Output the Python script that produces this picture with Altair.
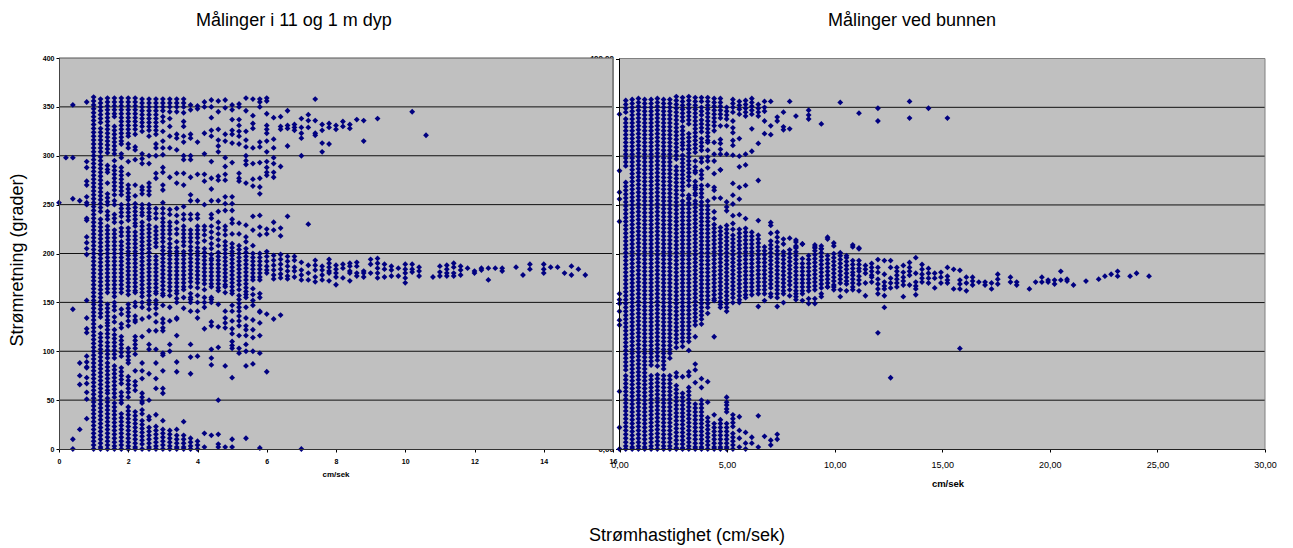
import altair as alt
import pandas as pd

# ---------- left panel: speed (cm/s), directions (degrees) ----------
a00 = (0.0, [252])
a02 = (0.2, [298])
a04 = (0.4, [352, 298, 256, 143, 10, 0])
a06 = (0.6, [254, 88, 75, 66, 20])
a08 = (0.8, [355, 294, 288, 274, 270, 258, 252, 250, 236, 234, 217, 211, 205, 199, 152, 134, 123, 119, 95, 89, 84, 83, 73, 67, 58, 51, 31])
a10 = (1.0, [360, 356, 352, 348, 344, 340, 336, 332, 328, 324, 320, 316, 312, 308, 304, 300, 296, 292, 288, 284, 280, 276, 272, 268, 264, 260, 256, 252, 248, 244, 240, 236, 232, 228, 224, 220, 216, 212, 208, 204, 200, 196, 192, 188, 184, 180, 176, 172, 168, 164, 160, 156, 152, 148, 144, 140, 136, 132, 128, 124, 120, 116, 112, 108, 104, 100, 96, 92, 88, 84, 80, 76, 72, 68, 64, 60, 56, 52, 48, 44, 40, 36, 32, 28, 24, 20, 16, 12, 8, 4, 0])
a12 = (1.2, [358, 354, 350, 346, 342, 338, 334, 328, 324, 320, 316, 312, 308, 304, 299, 295, 291, 287, 283, 279, 275, 271, 267, 263, 259, 255, 251, 247, 243, 235, 231, 227, 223, 219, 215, 211, 207, 203, 199, 195, 191, 187, 183, 179, 175, 171, 167, 163, 159, 155, 151, 147, 143, 139, 135, 125, 118, 114, 110, 106, 102, 98, 94, 90, 86, 82, 78, 74, 70, 66, 62, 58, 54, 50, 46, 42, 38, 34, 30, 26, 22, 18, 14, 10, 6, 2, 0])
a14 = (1.4, [359, 355, 351, 347, 343, 339, 335, 331, 327, 323, 319, 315, 311, 307, 303, 290, 286, 283, 272, 261, 257, 253, 250, 243, 239, 235, 228, 224, 220, 216, 212, 208, 204, 200, 196, 192, 188, 184, 180, 176, 172, 168, 164, 160, 148, 144, 140, 136, 132, 129, 126, 122, 118, 114, 109, 105, 101, 97, 93, 88, 84, 80, 76, 72, 68, 64, 60, 57, 52, 48, 44, 40, 36, 32, 28, 24, 20, 16, 12, 8, 4, 0])
a16 = (1.6, [359, 355, 351, 347, 343, 340, 330, 326, 322, 318, 314, 310, 306, 302, 295, 289, 285, 281, 277, 273, 269, 265, 260, 254, 250, 240, 236, 232, 224, 220, 216, 212, 208, 204, 200, 196, 192, 188, 184, 180, 176, 172, 168, 164, 160, 156, 150, 146, 142, 135, 130, 122, 117, 113, 109, 105, 101, 97, 93, 85, 81, 77, 73, 69, 65, 61, 57, 53, 47, 43, 39, 35, 31, 27, 23, 19, 15, 11, 7, 3, 0])
a18 = (1.8, [359, 355, 351, 347, 343, 339, 335, 331, 327, 323, 319, 315, 312, 302, 298, 288, 284, 280, 276, 272, 268, 264, 260, 250, 246, 242, 238, 232, 226, 222, 218, 212, 208, 204, 200, 196, 192, 188, 184, 180, 176, 172, 168, 164, 160, 143, 138, 128, 124, 115, 111, 107, 103, 99, 95, 83, 79, 75, 71, 67, 58, 54, 50, 47, 36, 32, 28, 24, 20, 16, 12, 8, 4, 0])
a20 = (2.0, [359, 355, 351, 347, 343, 339, 335, 331, 327, 323, 320, 312, 308, 294, 281, 270, 266, 262, 258, 255, 250, 246, 242, 238, 234, 226, 222, 218, 214, 210, 206, 202, 198, 194, 190, 186, 182, 178, 174, 170, 166, 162, 158, 148, 144, 140, 136, 131, 126, 103, 99, 95, 91, 88, 74, 70, 66, 62, 58, 53, 43, 39, 35, 31, 27, 23, 19, 15, 11, 7, 3, 0])
a22 = (2.2, [359, 355, 351, 347, 343, 339, 335, 331, 327, 322, 309, 306, 296, 270, 259, 251, 247, 243, 239, 235, 231, 228, 222, 218, 214, 210, 206, 202, 198, 194, 190, 186, 182, 178, 174, 170, 166, 162, 160, 150, 146, 136, 132, 130, 115, 111, 107, 103, 97, 80, 69, 65, 60, 38, 34, 30, 26, 22, 18, 14, 10, 6, 2, 0])
a24 = (2.4, [358, 354, 350, 346, 342, 338, 334, 330, 325, 302, 297, 292, 268, 265, 261, 250, 246, 242, 239, 232, 228, 224, 220, 216, 212, 208, 204, 200, 196, 192, 188, 184, 180, 176, 172, 168, 164, 160, 156, 150, 145, 133, 115, 88, 80, 72, 57, 53, 49, 47, 40, 36, 29, 25, 21, 17, 13, 9, 5, 0])
a26 = (2.6, [358, 354, 350, 346, 342, 338, 334, 330, 326, 320, 300, 292, 272, 268, 264, 260, 250, 246, 242, 238, 235, 229, 225, 221, 217, 213, 209, 205, 201, 197, 193, 189, 185, 181, 177, 173, 169, 165, 161, 157, 152, 148, 143, 135, 121, 107, 102, 77, 50, 33, 30, 22, 18, 14, 10, 6, 2, 0])
a28 = (2.8, [358, 354, 350, 346, 342, 338, 334, 330, 326, 322, 312, 308, 300, 282, 277, 246, 241, 236, 227, 223, 219, 215, 211, 207, 197, 193, 189, 185, 181, 177, 173, 169, 165, 161, 159, 152, 148, 144, 138, 130, 121, 102, 88, 72, 62, 35, 23, 19, 15, 11, 7, 3, 0])
a30 = (3.0, [358, 354, 350, 346, 340, 335, 325, 315, 308, 301, 288, 283, 270, 265, 252, 246, 241, 236, 232, 228, 224, 220, 216, 212, 207, 203, 199, 195, 191, 187, 183, 179, 175, 171, 167, 163, 159, 157, 147, 133, 129, 124, 121, 98, 96, 80, 62, 57, 29, 20, 16, 12, 8, 4, 0])
a32 = (3.2, [358, 354, 350, 345, 338, 330, 320, 308, 278, 245, 240, 232, 228, 224, 220, 215, 210, 206, 202, 198, 194, 190, 186, 182, 178, 174, 170, 166, 162, 157, 145, 131, 107, 100, 19, 15, 11, 7, 3, 0])
a34 = (3.4, [358, 354, 350, 345, 322, 318, 306, 282, 272, 246, 239, 232, 225, 220, 212, 206, 202, 198, 194, 190, 186, 182, 178, 174, 170, 166, 162, 159, 154, 150, 134, 133, 116, 89, 79, 20, 14, 10, 6, 2, 0])
a36 = (3.6, [358, 354, 350, 344, 335, 330, 320, 314, 300, 296, 282, 270, 248, 240, 235, 228, 224, 220, 216, 212, 208, 202, 198, 194, 190, 186, 182, 178, 174, 170, 166, 163, 155, 144, 28, 14, 10, 6, 2, 0])
a38 = (3.8, [352, 347, 322, 318, 300, 296, 278, 260, 254, 240, 235, 224, 220, 216, 212, 207, 203, 199, 195, 191, 187, 183, 179, 175, 171, 166, 159, 155, 153, 150, 141, 107, 94, 77, 11, 7, 3, 0])
a40 = (4.0, [351, 348, 314, 281, 254, 240, 236, 228, 224, 220, 216, 211, 206, 202, 198, 194, 190, 186, 182, 178, 174, 170, 165, 157, 150, 141, 134, 95, 8, 4, 0])
a42 = (4.2, [355, 350, 323, 302, 281, 274, 250, 228, 224, 219, 213, 205, 201, 197, 193, 189, 185, 181, 177, 173, 169, 163, 155, 150, 145, 123, 16, 2])
a44 = (4.4, [357, 350, 339, 326, 320, 294, 277, 266, 254, 240, 236, 228, 222, 216, 210, 205, 199, 195, 193, 189, 185, 181, 177, 173, 169, 166, 155, 153, 150, 130, 126, 102, 93, 86, 14])
a46 = (4.6, [356, 345, 327, 316, 310, 304, 279, 275, 254, 243, 232, 226, 220, 214, 208, 201, 197, 193, 189, 185, 181, 177, 173, 169, 165, 162, 148, 125, 104, 50, 15, 5, 2])
a48 = (4.8, [357, 349, 322, 315, 298, 289, 281, 275, 258, 251, 244, 228, 224, 219, 212, 208, 204, 200, 196, 192, 188, 184, 180, 176, 172, 168, 166, 160, 141, 134, 129, 124, 85, 2])
a50 = (5.0, [352, 347, 337, 326, 322, 313, 293, 258, 251, 244, 235, 231, 220, 210, 206, 202, 198, 194, 190, 186, 182, 178, 174, 170, 166, 162, 159, 147, 141, 131, 123, 118, 110, 106, 103, 73, 10, 2])
a52 = (5.2, [353, 350, 337, 331, 325, 320, 312, 282, 277, 274, 231, 220, 208, 204, 200, 196, 192, 188, 184, 180, 176, 172, 168, 163, 157, 153, 149, 145, 141, 136, 131, 126, 116, 103, 98])
a54 = (5.4, [359, 346, 325, 316, 309, 300, 295, 291, 272, 229, 217, 212, 205, 201, 197, 193, 189, 185, 181, 177, 173, 169, 165, 161, 158, 155, 145, 134, 126, 122, 116, 107, 100, 85, 11])
a56 = (5.6, [358, 341, 333, 328, 308, 292, 276, 269, 238, 224, 208, 200, 196, 192, 188, 184, 180, 176, 173, 164, 158, 152, 147, 132, 122, 114, 100, 87])
a58 = (5.8, [358, 355, 350, 314, 309, 293, 277, 268, 261, 239, 227, 219, 200, 196, 192, 188, 184, 180, 176, 173, 159, 155, 141, 140, 129, 116, 98, 1])
a60 = (6.0, [359, 356, 343, 331, 327, 323, 315, 304, 294, 288, 283, 280, 225, 220, 202, 197, 192, 187, 183, 180, 138, 79])
a62 = (6.2, [339, 317, 308, 298, 292, 283, 278, 232, 224, 198, 193, 188, 183, 178, 174, 133])
a64 = (6.4, [340, 330, 327, 289, 226, 218, 199, 194, 189, 184, 179, 175, 137])
a66 = (6.6, [346, 331, 328, 310, 238, 197, 192, 187, 182, 177, 174])
a68 = (6.8, [332, 329, 326, 197, 193, 186, 182, 176])
a70 = (7.0, [338, 329, 323, 318, 300, 191, 183, 178, 173, 0])
a72 = (7.2, [342, 336, 329, 230, 188, 180, 173])
a74 = (7.4, [358, 336, 323, 321, 193, 188, 183, 176, 171])
a76 = (7.6, [332, 326, 313, 304, 187, 183, 178, 173])
a78 = (7.8, [333, 329, 312, 194, 190, 186, 182, 180, 172])
a80 = (8.0, [331, 327, 188, 184, 180, 176, 168])
a82 = (8.2, [335, 330, 189, 185, 175])
a84 = (8.4, [332, 328, 190, 187, 182, 180, 172])
a86 = (8.6, [337, 191, 187, 180, 177])
a88 = (8.8, [336, 315, 182, 180, 176])
a90 = (9.0, [194, 189, 180])
a92 = (9.2, [338, 195, 190, 185, 180, 175])
a94 = (9.4, [189, 184, 176])
a96 = (9.6, [187, 183, 177])
a98 = (9.8, [185, 177])
a100 = (10.0, [189, 184, 180, 175, 170])
a102 = (10.2, [345, 189, 184, 181])
a104 = (10.4, [186, 182, 177])
a106 = (10.6, [321])
a108 = (10.8, [176])
a110 = (11.0, [187, 181, 177])
a112 = (11.2, [188, 184, 180, 177])
a114 = (11.4, [190, 186, 180, 177])
a116 = (11.6, [187, 183, 178])
a118 = (11.8, [185])
a120 = (12.0, [182, 180])
a122 = (12.2, [185, 183])
a124 = (12.4, [185, 173])
a126 = (12.6, [185])
a128 = (12.8, [185, 182])
a132 = (13.2, [186])
a134 = (13.4, [178])
a136 = (13.6, [189, 184])
a140 = (14.0, [189, 184, 180])
a142 = (14.2, [186])
a144 = (14.4, [186])
a146 = (14.6, [180])
a148 = (14.8, [187, 178])
a150 = (15.0, [184])
a152 = (15.2, [178])

# ---------- right panel: speed (cm/s), directions (degrees) ----------
b00 = (0.00, [343, 285, 263, 256, 233, 159, 153, 149, 141, 132, 127, 59, 22, 0])
b01 = (0.29, [357, 353, 349, 345, 338, 334, 330, 326, 322, 318, 314, 310, 306, 302, 298, 294, 290, 273, 269, 265, 261, 257, 253, 249, 245, 241, 237, 233, 229, 225, 221, 217, 213, 209, 205, 201, 197, 193, 189, 185, 181, 177, 173, 169, 165, 161, 157, 153, 149, 145, 141, 137, 133, 129, 125, 121, 117, 113, 109, 105, 101, 97, 93, 89, 85, 81, 75, 71, 67, 63, 59, 55, 51, 47, 43, 39, 35, 31, 27, 23, 19, 15, 11, 7, 3, 0])
b02 = (0.59, [358, 354, 350, 346, 342, 338, 334, 330, 326, 322, 318, 314, 310, 306, 302, 298, 294, 290, 286, 282, 278, 274, 270, 266, 262, 258, 254, 250, 246, 242, 238, 234, 230, 226, 222, 218, 214, 210, 206, 202, 198, 194, 190, 186, 182, 178, 174, 170, 166, 162, 158, 154, 150, 146, 142, 138, 134, 130, 126, 122, 118, 114, 110, 106, 102, 98, 94, 90, 86, 82, 78, 74, 70, 66, 62, 58, 54, 50, 46, 42, 38, 34, 30, 26, 22, 18, 14, 10, 6, 2, 0])
b03 = (0.88, [359, 355, 351, 347, 343, 339, 335, 331, 327, 323, 319, 315, 311, 307, 303, 299, 295, 291, 287, 283, 279, 275, 271, 267, 263, 259, 255, 251, 247, 243, 239, 235, 231, 227, 223, 219, 215, 211, 207, 203, 199, 195, 191, 187, 183, 179, 175, 171, 167, 163, 159, 155, 151, 147, 143, 139, 135, 131, 127, 123, 119, 115, 111, 107, 103, 99, 95, 91, 87, 83, 79, 75, 71, 67, 63, 59, 55, 51, 47, 43, 39, 35, 31, 27, 23, 19, 15, 11, 7, 3, 0])
b04 = (1.17, [358, 354, 350, 346, 342, 338, 334, 330, 326, 322, 318, 314, 310, 306, 302, 298, 294, 290, 286, 282, 278, 274, 270, 266, 262, 258, 254, 250, 246, 242, 238, 234, 230, 226, 222, 218, 214, 210, 206, 202, 198, 194, 190, 186, 182, 178, 174, 170, 166, 162, 158, 154, 150, 146, 142, 138, 134, 130, 126, 122, 118, 114, 110, 106, 102, 98, 94, 90, 86, 82, 78, 74, 70, 66, 62, 58, 54, 50, 46, 42, 38, 34, 30, 26, 22, 18, 14, 10, 6, 2, 0])
b05 = (1.47, [358, 354, 350, 346, 342, 338, 334, 330, 326, 322, 318, 314, 310, 306, 302, 298, 294, 290, 286, 282, 278, 274, 270, 266, 262, 258, 254, 250, 246, 242, 238, 234, 230, 226, 222, 218, 214, 210, 206, 202, 198, 194, 190, 186, 182, 178, 174, 170, 166, 162, 158, 154, 150, 146, 142, 138, 134, 130, 126, 122, 118, 114, 110, 106, 102, 98, 94, 90, 86, 75, 71, 67, 63, 59, 55, 51, 47, 43, 39, 35, 31, 27, 23, 19, 15, 11, 7, 3, 0])
b06 = (1.76, [359, 355, 351, 347, 343, 339, 335, 331, 327, 323, 319, 315, 311, 307, 303, 299, 295, 291, 287, 283, 279, 275, 271, 267, 263, 259, 255, 251, 247, 243, 239, 235, 231, 227, 223, 219, 215, 211, 207, 203, 199, 195, 191, 187, 183, 179, 175, 171, 167, 163, 159, 155, 151, 147, 143, 139, 135, 131, 127, 123, 119, 115, 111, 107, 103, 99, 95, 91, 85, 76, 72, 68, 64, 60, 56, 52, 48, 44, 40, 36, 32, 28, 24, 20, 16, 12, 8, 4, 0])
b07 = (2.05, [358, 354, 350, 346, 342, 338, 334, 330, 326, 322, 318, 314, 310, 306, 302, 298, 294, 290, 286, 282, 278, 274, 270, 266, 262, 258, 254, 250, 246, 242, 238, 234, 230, 226, 222, 218, 214, 210, 206, 202, 198, 194, 190, 186, 182, 178, 174, 170, 166, 162, 158, 154, 150, 146, 142, 138, 134, 130, 126, 122, 118, 114, 110, 106, 102, 98, 94, 90, 86, 82, 75, 71, 67, 63, 59, 55, 51, 47, 43, 39, 35, 31, 27, 23, 19, 15, 11, 7, 3, 0])
b08 = (2.34, [358, 354, 350, 346, 342, 338, 334, 330, 326, 322, 318, 314, 310, 306, 302, 298, 294, 290, 286, 282, 278, 274, 270, 266, 262, 258, 254, 250, 246, 242, 238, 234, 230, 226, 222, 218, 214, 210, 206, 202, 198, 194, 190, 186, 182, 178, 174, 170, 166, 162, 158, 154, 150, 146, 142, 138, 134, 130, 126, 122, 118, 114, 110, 106, 102, 98, 93, 75, 71, 67, 63, 59, 55, 51, 47, 43, 39, 35, 31, 27, 23, 19, 15, 11, 7, 3, 0])
b09 = (2.64, [361, 357, 353, 349, 345, 341, 337, 333, 329, 325, 321, 317, 313, 309, 305, 301, 297, 289, 285, 281, 277, 273, 269, 265, 261, 257, 253, 249, 245, 241, 237, 233, 229, 225, 221, 217, 213, 209, 205, 201, 197, 193, 189, 185, 181, 177, 173, 169, 165, 161, 157, 153, 149, 145, 141, 137, 133, 129, 125, 121, 117, 113, 109, 104, 78, 74, 65, 61, 57, 53, 49, 45, 41, 37, 33, 29, 25, 21, 17, 13, 9, 5, 1, 0])
b10 = (2.93, [360, 356, 352, 348, 344, 340, 336, 330, 326, 322, 318, 314, 311, 307, 301, 297, 293, 289, 285, 281, 277, 273, 269, 265, 260, 254, 250, 246, 242, 238, 234, 230, 226, 222, 218, 214, 210, 206, 202, 198, 194, 190, 186, 182, 178, 174, 170, 166, 162, 158, 154, 150, 146, 142, 138, 134, 130, 126, 122, 118, 114, 110, 105, 74, 57, 53, 49, 45, 41, 37, 33, 29, 25, 21, 17, 13, 9, 5, 1, 0])
b11 = (3.22, [361, 357, 353, 349, 345, 341, 337, 333, 323, 319, 315, 311, 307, 303, 307, 299, 295, 291, 287, 283, 279, 275, 270, 260, 256, 252, 257, 250, 246, 242, 238, 234, 230, 226, 222, 218, 214, 210, 206, 202, 198, 194, 190, 186, 182, 178, 174, 170, 166, 162, 158, 154, 150, 146, 142, 138, 134, 130, 126, 122, 118, 114, 110, 101, 79, 75, 63, 59, 55, 51, 47, 43, 39, 35, 31, 27, 23, 19, 15, 11, 7, 3, 0])
b12 = (3.52, [360, 356, 352, 348, 344, 340, 336, 332, 328, 324, 320, 316, 312, 308, 304, 295, 289, 285, 283, 274, 270, 266, 262, 268, 260, 254, 251, 247, 243, 239, 235, 231, 227, 223, 219, 215, 211, 207, 203, 199, 195, 191, 187, 183, 179, 175, 171, 167, 163, 159, 155, 151, 147, 143, 139, 135, 131, 127, 115, 87, 81, 68, 46, 42, 38, 34, 30, 26, 22, 18, 14, 10, 6, 2, 0])
b13 = (3.81, [360, 356, 350, 346, 342, 337, 333, 329, 325, 318, 314, 310, 306, 298, 294, 285, 281, 277, 270, 266, 262, 258, 253, 249, 245, 241, 237, 233, 229, 225, 221, 217, 213, 209, 205, 201, 197, 193, 189, 185, 181, 177, 173, 169, 165, 161, 157, 153, 149, 145, 141, 137, 133, 128, 72, 63, 50, 46, 42, 38, 34, 30, 26, 22, 18, 14, 10, 6, 2, 0])
b14 = (4.10, [360, 356, 352, 348, 344, 340, 336, 332, 328, 324, 320, 316, 314, 306, 295, 299, 288, 270, 254, 249, 245, 241, 237, 233, 229, 225, 221, 217, 213, 209, 205, 201, 197, 193, 189, 185, 181, 177, 173, 169, 165, 161, 157, 153, 149, 145, 139, 69, 48, 32, 28, 24, 20, 16, 12, 8, 4, 0])
b15 = (4.40, [359, 355, 351, 347, 343, 339, 335, 331, 326, 314, 302, 295, 282, 268, 265, 257, 243, 236, 230, 226, 222, 218, 214, 210, 206, 202, 198, 194, 190, 186, 182, 178, 174, 170, 166, 162, 158, 154, 152, 115, 35, 26, 22, 18, 14, 10, 6, 2, 0])
b16 = (4.69, [359, 355, 351, 347, 343, 339, 331, 317, 313, 307, 302, 286, 286, 257, 227, 223, 219, 215, 211, 207, 203, 199, 195, 191, 187, 183, 179, 175, 171, 167, 163, 159, 155, 151, 148, 145, 30, 26, 22, 18, 14, 10, 6, 2, 0])
b17 = (4.98, [350, 346, 342, 338, 331, 302, 253, 248, 244, 229, 225, 221, 217, 213, 209, 205, 201, 197, 193, 189, 185, 181, 177, 173, 169, 165, 161, 157, 153, 149, 145, 141, 53, 48, 45, 41, 38, 26, 22, 18, 14, 10, 6, 2, 0])
b18 = (5.27, [358, 354, 350, 345, 336, 329, 324, 316, 311, 301, 272, 260, 251, 239, 231, 225, 219, 215, 211, 207, 203, 199, 195, 191, 187, 183, 179, 175, 171, 167, 163, 159, 155, 150, 35, 31, 27, 23, 16, 12, 8, 4, 0])
b19 = (5.57, [356, 352, 348, 343, 318, 300, 289, 268, 256, 240, 225, 221, 217, 213, 209, 205, 201, 197, 193, 189, 185, 181, 177, 173, 169, 165, 161, 157, 153, 150, 33, 19, 11, 2])
b20 = (5.86, [357, 353, 349, 345, 341, 302, 291, 270, 236, 226, 222, 218, 214, 210, 206, 202, 198, 194, 190, 186, 182, 178, 174, 170, 166, 162, 158, 155, 17, 6, 0])
b21 = (6.15, [359, 355, 351, 347, 343, 328, 305, 222, 218, 214, 210, 206, 202, 198, 194, 190, 186, 182, 178, 174, 170, 166, 162, 158, 12, 6])
b22 = (6.45, [353, 349, 345, 341, 313, 275, 234, 219, 215, 211, 207, 203, 199, 195, 191, 187, 183, 179, 175, 171, 167, 163, 159, 146, 34, 2])
b23 = (6.74, [356, 350, 346, 336, 323, 207, 203, 199, 195, 191, 187, 183, 179, 175, 171, 167, 163, 159, 152, 13])
b24 = (7.03, [356, 331, 322, 232, 229, 221, 213, 209, 205, 201, 197, 193, 189, 185, 181, 177, 173, 169, 165, 159, 156, 9, 4])
b25 = (7.33, [340, 336, 222, 217, 212, 207, 203, 199, 195, 191, 187, 183, 179, 175, 171, 167, 163, 159, 155, 146, 15, 10])
b26 = (7.62, [345, 330, 327, 215, 210, 202, 198, 194, 190, 186, 182, 178, 174, 170, 166, 162, 159, 150])
b27 = (7.91, [356, 328, 216, 204, 200, 196, 192, 188, 184, 180, 176, 172, 168, 163, 157])
b28 = (8.20, [341, 212, 208, 214, 207, 206, 202, 198, 194, 190, 186, 182, 178, 174, 170, 166, 162, 159, 156, 153])
b29 = (8.50, [210, 210, 195, 190, 186, 182, 178, 174, 170, 166, 162, 159, 152])
b30 = (8.79, [347, 342, 338, 198, 194, 190, 186, 182, 178, 174, 170, 166, 162, 154, 149])
b31 = (9.08, [209, 206, 207, 203, 199, 195, 191, 187, 183, 179, 175, 171, 167, 163, 154, 149])
b32 = (9.38, [333, 208, 205, 205, 201, 197, 193, 189, 185, 181, 177, 173, 169, 165, 159, 156])
b33 = (9.67, [217, 215, 198, 194, 190, 186, 182, 178, 174, 170, 166, 166])
b34 = (9.96, [211, 208, 200, 196, 192, 188, 184, 180, 176, 172, 168, 166, 163])
b35 = (10.26, [355, 201, 198, 194, 190, 186, 182, 178, 174, 170, 163, 156])
b36 = (10.55, [198, 196, 192, 188, 184, 180, 176, 172, 169, 162])
b37 = (10.84, [209, 207, 193, 189, 185, 181, 178, 174, 170, 166, 163])
b38 = (11.13, [344, 206, 205, 193, 189, 185, 182, 177, 173, 169, 162])
b39 = (11.43, [188, 184, 180, 170, 157])
b40 = (11.72, [190, 186, 182, 178, 176, 171])
b41 = (12.01, [349, 336, 194, 186, 181, 174, 169, 164, 159, 119])
b42 = (12.31, [193, 179, 171, 167, 164, 157, 145])
b43 = (12.60, [193, 186, 175, 170, 165, 73])
b44 = (12.89, [186, 182, 178, 174, 170, 166])
b45 = (13.19, [188, 181, 176, 172, 168, 156])
b46 = (13.48, [356, 339, 191, 186, 182, 178, 168])
b47 = (13.77, [196, 180, 171, 167, 164, 158])
b48 = (14.06, [189, 184, 179, 175, 171])
b49 = (14.36, [349, 185, 180, 175, 170])
b50 = (14.65, [180, 175, 165])
b51 = (14.94, [181, 176, 170])
b52 = (15.24, [339, 186, 177, 173, 170])
b53 = (15.53, [184, 164])
b54 = (15.82, [183, 173, 169, 164, 103])
b55 = (16.12, [176, 170, 162])
b56 = (16.41, [176, 172, 168])
b57 = (16.70, [171])
b58 = (16.99, [171, 168])
b59 = (17.29, [170, 164])
b60 = (17.58, [179, 174, 169])
b62 = (18.17, [176, 171])
b63 = (18.46, [171, 168])
b65 = (19.05, [164])
b66 = (19.34, [171])
b67 = (19.63, [176, 171])
b68 = (19.92, [173, 171])
b69 = (20.22, [173, 169])
b70 = (20.51, [182, 173])
b71 = (20.80, [174, 172])
b72 = (21.10, [168])
b74 = (21.68, [172])
b76 = (22.27, [174])
b77 = (22.56, [177])
b78 = (22.85, [179])
b79 = (23.15, [182, 177])
b81 = (23.73, [177])
b82 = (24.03, [180])
b84 = (24.61, [177])

left_columns = [a00, a02, a04, a06, a08, a10, a12, a14, a16, a18, a20, a22, a24, a26, a28, a30, a32, a34, a36, a38, a40, a42, a44, a46, a48, a50, a52, a54, a56, a58, a60, a62, a64, a66, a68, a70, a72, a74, a76, a78, a80, a82, a84, a86, a88, a90, a92, a94, a96, a98, a100, a102, a104, a106, a108, a110, a112, a114, a116, a118, a120, a122, a124, a126, a128, a132, a134, a136, a140, a142, a144, a146, a148, a150, a152]
right_columns = [b00, b01, b02, b03, b04, b05, b06, b07, b08, b09, b10, b11, b12, b13, b14, b15, b16, b17, b18, b19, b20, b21, b22, b23, b24, b25, b26, b27, b28, b29, b30, b31, b32, b33, b34, b35, b36, b37, b38, b39, b40, b41, b42, b43, b44, b45, b46, b47, b48, b49, b50, b51, b52, b53, b54, b55, b56, b57, b58, b59, b60, b62, b63, b65, b66, b67, b68, b69, b70, b71, b72, b74, b76, b77, b78, b79, b81, b82, b84]

grid_values = [50, 100, 150, 200, 250, 300, 350]
y_ticks = [0, 50, 100, 150, 200, 250, 300, 350, 400]
left_x_ticks = [0, 2, 4, 6, 8, 10, 12, 14, 16]
right_x_ticks = [0, 5, 10, 15, 20, 25, 30]

TITLE_LEFT = "Målinger i 11 og 1 m dyp"
TITLE_RIGHT = "Målinger ved bunnen"
Y_LABEL = "Strømretning (grader)"
X_LABEL = "Strømhastighet (cm/sek)"
UNIT = "cm/sek"


def table(cols):
    return pd.DataFrame([{"v": v, "d": d} for v, ds in cols for d in ds])


FONT = "Liberation Sans"
NAVY = "#000080"
W, H = 1206, 391
LW = 554          # left plot width
RX = 560.5        # right plot start
RY = 0.5

lx = alt.Scale(domain=[0, 16], range=[0, LW], nice=False, zero=False)
ly = alt.Scale(domain=[0, 400], range=[H, 0], nice=False)
rx = alt.Scale(domain=[0, 30], range=[RX, W], nice=False, zero=False)
ry = alt.Scale(domain=[0, 400], range=[H, RY], nice=False)

one = pd.DataFrame({"k": [1]})
grid = pd.DataFrame({"g": grid_values})


def rect(x0, x1, y0, y1, color):
    return alt.Chart(one).mark_rect(color=color).encode(
        x=alt.value(x0), x2=alt.value(x1), y=alt.value(y0), y2=alt.value(y1))


def hline(x0, x1, y, color, w=1):
    return alt.Chart(one).mark_rule(color=color, strokeWidth=w).encode(
        x=alt.value(x0), x2=alt.value(x1), y=alt.value(y))


def vline(x, y0, y1, color, w=1):
    return alt.Chart(one).mark_rule(color=color, strokeWidth=w).encode(
        x=alt.value(x), y=alt.value(y0), y2=alt.value(y1))


def label(text, x, y, size, weight="normal", angle=0):
    return alt.Chart(pd.DataFrame({"t": [text]})).mark_text(
        font=FONT, fontSize=size, fontWeight=weight, color="black",
        angle=angle, align="center", baseline="middle"
    ).encode(x=alt.value(x), y=alt.value(y), text="t:N")


comma = "replace(format(datum.value, '.2f'), '.', ',')"

# ----- right panel first: the left panel lies over its y-axis labels -----
r_axis_y = alt.Chart(grid).mark_rule(color="#111", strokeWidth=1).encode(
    x=alt.value(RX), x2=alt.value(W),
    y=alt.Y("g:Q", scale=ry, axis=alt.Axis(
        orient="left", offset=-RX, values=y_ticks, labelExpr=comma, grid=False,
        title=None, domain=False, tickColor="black", tickSize=4, labelPadding=2,
        labelFont=FONT, labelFontSize=8, labelFontWeight="bold", labelColor="black")))
r_points = alt.Chart(table(right_columns)).mark_point(
    shape="diamond", filled=True, size=34, color=NAVY, opacity=1, clip=False
).encode(
    x=alt.X("v:Q", scale=rx, axis=alt.Axis(
        orient="bottom", values=right_x_ticks, labelExpr=comma, grid=False, title=None,
        domainColor="#222", tickColor="black", tickSize=3, labelPadding=8, zindex=1,
        labelFlush=False, labelFont=FONT, labelFontSize=9, labelFontWeight="normal",
        labelColor="black")),
    y=alt.Y("d:Q", scale=ry, axis=None))

# ----- left panel -----
l_grid = alt.Chart(grid).mark_rule(color="#111", strokeWidth=1).encode(
    x=alt.value(0), x2=alt.value(LW), y=alt.Y("g:Q", scale=ly, axis=None))
l_points = alt.Chart(table(left_columns)).mark_point(
    shape="diamond", filled=True, size=34, color=NAVY, opacity=1, clip=False
).encode(
    x=alt.X("v:Q", scale=lx, axis=alt.Axis(
        orient="bottom", values=left_x_ticks, format="d", grid=False, title=None,
        domainColor="#333", tickColor="black", tickSize=3, labelPadding=5, zindex=1,
        labelFlush=False, labelFont=FONT, labelFontSize=7, labelFontWeight="bold",
        labelColor="black")),
    y=alt.Y("d:Q", scale=ly, axis=alt.Axis(
        orient="left", values=y_ticks, format="d", grid=False, title=None, zindex=1,
        domainColor="#444", tickColor="black", tickSize=3, labelPadding=2,
        labelFont=FONT, labelFontSize=7, labelFontWeight="bold", labelColor="black")))

chart = alt.layer(
    rect(RX, W, RY, H, "#C0C0C0"),
    r_axis_y,
    hline(RX, W, RY, "#808080", 1),
    vline(W, RY, H, "#808080", 1),
    r_points,
    vline(RX, RY, H, "black", 1),
    rect(0, LW, 0, H, "#C0C0C0"),
    l_grid,
    hline(0, LW, 0, "#555555", 1),
    vline(LW, 0, H, "#808080", 2),
    l_points,
    label(TITLE_LEFT, 235, -37, 18),
    label(TITLE_RIGHT, 853, -37, 18),
    label(UNIT, 277, 417, 8, "bold"),
    label(UNIT, 889, 426, 9.5, "bold"),
    label(Y_LABEL, -41, 202, 18, angle=270),
    label(X_LABEL, 628, 478, 18),
).resolve_scale(x="independent", y="independent").properties(
    width=W, height=H, autosize=alt.AutoSizeParams(type="none"),
    padding={"left": 51, "top": 50, "right": 20, "bottom": 99},
).configure_view(stroke=None).configure_axis(domainWidth=1, tickWidth=1)

chart.save("out.html", embed_options={"renderer": "svg", "actions": False})
